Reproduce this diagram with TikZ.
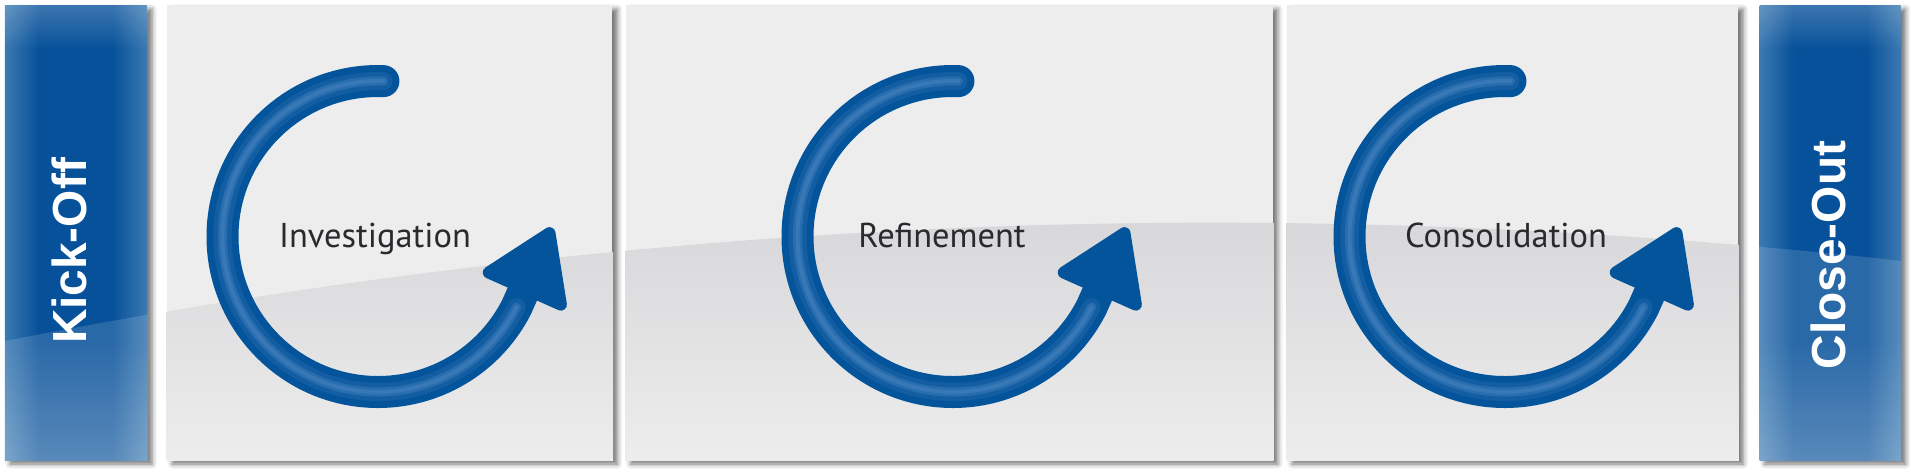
\documentclass[tikz,border=0pt]{standalone}
\usepackage{fontspec}
\setmainfont{PT Sans}
\newfontfamily\barfont{Liberation Sans}
\usetikzlibrary{positioning,arrows.meta,shadows.blur,fadings}

\definecolor{panelgray}{HTML}{EDEDED}
\definecolor{glosstop}{HTML}{D5D5D8}
\definecolor{glossbottom}{HTML}{EEEEEE}
\definecolor{bardark}{HTML}{07519A}
\definecolor{barlight}{HTML}{3B79B2}
\definecolor{cycleblue}{HTML}{04549C}
\definecolor{shineblue}{HTML}{6A9BD0}
\definecolor{labelgray}{HTML}{2A2A2E}

\pgfdeclarehorizontalshading{barshade}{100bp}{color(0bp)=(barlight); color(25bp)=(barlight); color(37bp)=(bardark); color(63bp)=(bardark); color(75bp)=(barlight); color(100bp)=(barlight)}

\begin{document}
\begin{tikzpicture}[
        panel/.style={rectangle, fill=panelgray, inner sep=0pt, minimum height=4.55cm,
            blur shadow={shadow xshift=0.05cm, shadow yshift=-0.04cm, shadow blur radius=0.05cm, shadow opacity=55}},
        bar/.style={panel, shading=barshade, minimum width=1.42cm},
        bartext/.style={rotate=90, text=white, font=\barfont\bfseries\fontsize{13.6}{15}\selectfont},
        phasetext/.style={anchor=base, text=labelgray, font=\fontsize{9.8}{11}\selectfont},
        cyclearrow/.style={line width=0.32cm, draw=cycleblue, line cap=round,
            -{Triangle[length=0.78cm, width=0.98cm, line width=0.12cm, round]}},
        shine/.style={draw=shineblue, line cap=round}
    ]
    \useasboundingbox (0,0) rectangle (19.11,4.75);

    % phases
    \node[bar] (ko) at (0.76,2.425) {};
    \node[panel, minimum width=4.45cm, right=0.19cm of ko] (inv) {};
    \node[panel, minimum width=6.47cm, right=0.12cm of inv] (ref) {};
    \node[panel, minimum width=4.51cm, right=0.13cm of ref] (con) {};
    \node[bar, minimum width=1.41cm, right=0.20cm of con] (co) {};

    % gloss
    \foreach \p in {inv,ref,con} {
        \begin{scope}
            \clip (\p.south west) rectangle (\p.north east);
            \shade[top color=glosstop, bottom color=glossbottom] (0,0) -- (0,1.33)
                .. controls (6.36,2.58) and (12.73,2.85) .. (19.11,2.13) -- (19.11,0) -- cycle;
        \end{scope}
    }
    \foreach \p in {ko,co} {
        \begin{scope}
            \clip (\p.south west) rectangle (\p.north east);
            \fill[white, opacity=0.22, path fading=south] (\p.north west) rectangle ([yshift=-0.45cm]\p.north east);
            \fill[white, opacity=0.14] (0,0) -- (0,1.33)
                .. controls (6.36,2.58) and (12.73,2.85) .. (19.11,2.13) -- (19.11,0) -- cycle;
            \fill[white, opacity=0.22, path fading=north] (\p.south west) rectangle ([yshift=1.2cm]\p.south east);
        \end{scope}
    }

    % cycles
    \foreach \cx in {3.78,9.53,15.05} {
        \draw[cyclearrow] (\cx,2.385) ++(88:1.555) arc[start angle=88, end angle=333, radius=1.555] -- ++(66:0.87);
        \draw[shine, line width=0.18cm, opacity=0.15] (\cx,2.385) ++(88:1.555) arc[start angle=88, end angle=333, radius=1.555];
        \draw[shine, line width=0.09cm, opacity=0.25] (\cx,2.385) ++(88:1.555) arc[start angle=88, end angle=333, radius=1.555];
        \draw[shine, line width=0.04cm, opacity=0.25] (\cx,2.385) ++(88:1.555) arc[start angle=88, end angle=333, radius=1.555];
    }

    \node[phasetext] (invt) at (3.75,2.28) {Investigation};
    \node[phasetext] (reft) at (9.42,2.28) {Refinement};
    \node[phasetext] (cont) at (15.06,2.28) {Consolidation};

    \node[bartext] (kot) at (0.69,2.24) {Kick-Off};
    \node[bartext] (cot) at (18.28,2.20) {Close-Out};
\end{tikzpicture}
\end{document}
